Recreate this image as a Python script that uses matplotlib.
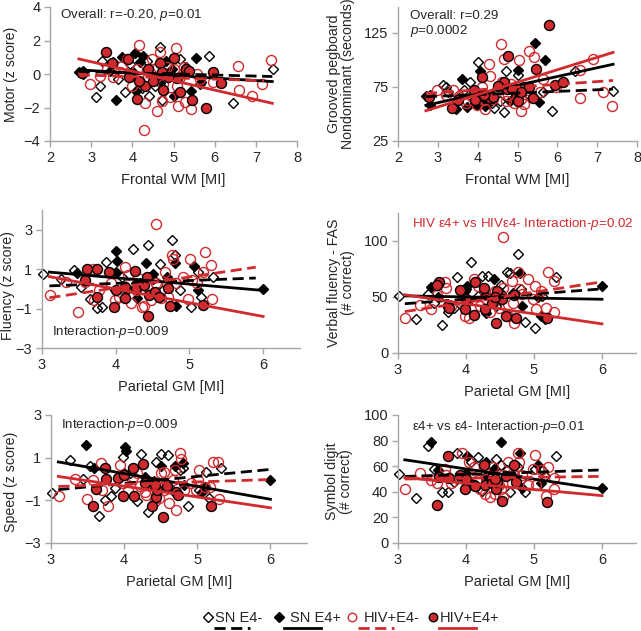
import matplotlib.pyplot as plt
import numpy as np

plt.rcParams['font.family'] = ['Liberation Sans', 'DejaVu Sans']
plt.rcParams['mathtext.fontset'] = 'custom'
plt.rcParams['mathtext.rm'] = 'Liberation Sans'
plt.rcParams['mathtext.it'] = 'Liberation Sans:italic'

RED = '#d02a2e'
GRAY = '#a6a6a6'
TXT = '#262626'

groups = ['SN E4-', 'SN E4+', 'HIV+E4-', 'HIV+E4+']

# ---- frontal white matter MI (panels 1-2) ----
sn_neg_frontal = [5.87, 7.41, 6.44, 3.12, 3.21, 3.26, 3.82, 4.67, 4.35, 4.23, 4.41, 4.71, 3.66, 5.00, 5.30,
                  4.02, 2.80, 5.64, 3.54, 4.55, 5.16, 3.94]
sn_pos_frontal = [2.70, 3.60, 4.06, 4.27, 4.81, 5.00, 5.54, 5.43, 5.68, 4.67, 4.10, 3.98, 4.96, 4.19, 3.46,
                  3.74, 5.02, 2.80]
hiv_neg_frontal = [4.15, 5.05, 4.67, 4.28, 4.59, 4.30, 5.10, 5.42, 5.28, 2.97, 6.56, 7.36, 6.58, 6.90, 7.14,
                   5.97, 4.91, 4.71, 4.83, 5.00, 3.86, 3.70, 3.21, 4.19, 4.39, 4.62, 5.25, 5.56, 3.54, 3.98,
                   4.11, 4.47, 5.64, 4.75, 5.08, 5.16, 3.38, 3.74]
hiv_pos_frontal = [3.36, 3.50, 3.90, 3.93, 4.11, 4.31, 4.39, 4.66, 4.75, 4.73, 5.00, 5.16, 5.30, 5.38, 5.46,
                   5.79, 5.95, 6.15, 2.77, 5.08, 4.51, 4.15, 4.87]

motor_sn_neg = [1.1, 0.3, -1.75, -1.35, -0.7, 0.75, -1.05, 1.6, 0.75, -0.85, -1.3, -1.55, -0.3, -0.2, 0.4,
                0.1, 0.0, -0.6, 0.7, -0.7, 0.9, 0.6]
motor_sn_pos = [0.1, -1.55, 1.25, 1.1, 0.8, 0.9, 0.95, -1.0, -0.5, -0.55, -1.0, 0.1, 0.3, 0.7, 0.15,
                1.0, -1.3, 0.15]
motor_hiv_neg = [1.75, 1.55, 1.3, -3.35, -2.2, -1.75, -1.9, -2.1, -1.7, -0.6, 0.5, 0.85, -0.95, -1.3, -0.6,
                 -0.5, -1.4, -1.6, 0.4, 0.3, 0.9, 0.1, -0.1, -0.5, -0.2, 0.4, 0.4, 0.0, -0.2, -0.7,
                 0.3, 0.9, -0.3, -0.6, -0.7, -0.2, 0.3, 0.5]
motor_hiv_pos = [1.3, 0.65, 0.9, -0.15, -1.5, -0.7, 0.3, 0.65, -0.95, 0.1, 0.95, -1.1, 0.3, 0.2, -1.55,
                 -2.05, 0.1, -0.55, 0.05, -0.25, -0.4, -0.4, -0.15]

peg_sn_neg = [52.5, 71, 89.5, 77, 75, 70, 80, 52, 60, 66, 55.5, 90, 72, 86, 68, 98, 68, 70, 65, 62, 75, 60]
peg_sn_pos = [67, 82, 90, 60, 62, 91, 61, 115.7, 100, 74, 65, 58, 68, 57, 54.6, 56, 64, 58.6]
peg_hiv_neg = [63, 99.7, 101, 96.6, 115, 85, 52.5, 102.8, 108, 72, 65, 57, 91, 101, 70, 75, 60, 62, 78, 66,
               66, 60, 68, 54.6, 64, 80, 72, 70, 67, 58, 75, 70, 82, 68, 64, 59, 72, 63]
peg_hiv_pos = [55.6, 63, 72, 63, 84, 65, 66, 80, 104, 73, 62.3, 75, 75, 65, 91.7, 132.7, 77, 80, 66, 70,
               76, 68, 73]

# ---- parietal grey matter MI (panels 3-6) ----
sn_neg_parietal = [3.01, 3.26, 3.44, 3.87, 4.23, 4.44, 4.77, 4.81, 4.60, 3.53, 3.65, 3.74, 3.82, 4.08, 4.17,
                   4.51, 4.87, 5.02, 5.12, 5.32, 5.16, 4.64, 4.33, 3.99]
sn_pos_parietal = [3.48, 4.01, 4.02, 4.00, 4.41, 4.80, 4.82, 4.29, 4.69, 5.06, 5.11, 6.00, 3.59, 4.28, 4.51]
hiv_neg_parietal = [4.54, 4.76, 4.78, 5.01, 5.21, 5.29, 5.18, 5.03, 5.30, 4.98, 3.49, 3.11, 3.33, 3.69, 4.12,
                    4.30, 4.35, 4.39, 4.67, 4.62, 4.71, 4.21, 3.94, 4.42, 4.82, 3.78, 4.05, 4.51, 4.91, 3.58,
                    4.17, 4.69, 3.99, 4.55, 4.28, 3.70, 5.10, 4.48]
hiv_pos_parietal = [3.61, 3.74, 3.75, 3.91, 3.98, 4.00, 4.12, 4.13, 4.26, 4.28, 4.38, 4.44, 4.45, 4.53, 4.59,
                    4.71, 4.74, 5.19, 3.58, 4.42]

fluency_sn_neg = [0.75, 0.48, 0.95, 1.35, 2.04, 2.24, 2.5, 1.74, 1.25, 0.1, -0.53, -0.98, -0.93, 0.6, -0.03,
                  0.48, -0.06, -0.93, 0.87, 0.6, -0.4, -0.06, 0.28, -0.06]
fluency_sn_pos = [0.82, 1.92, 1.4, 0.87, 1.32, 1.29, -0.87, -0.48, 0.61, 1.15, -0.06, -0.03, 0.44, 0.28, 0.75]
fluency_hiv_neg = [3.27, 1.7, 1.49, 1.49, 1.87, 1.2, 0.87, 0.45, -0.53, -0.53, -1.15, -0.31, 0.36, 1.03, 1.12,
                   0.53, -0.9, -0.87, 0.87, -0.48, -0.4, -0.73, 0.28, 0.11, 0.28, -0.06, -0.4, -0.23, 0.61, 0.36,
                   0.7, 0.28, -0.56, 0.28, -0.06, -0.56, 0.28, -0.56]
fluency_hiv_pos = [1.03, -0.4, 1.03, 0.87, -0.93, -0.06, 0.11, -0.48, 0.9, 0.03, 0.19, -1.4, -0.31, -0.14,
                   -0.4, 0.03, -0.87, -0.82, 0.44, 0.61]

verbal_sn_neg = [51, 30, 53, 68, 69, 42, 88.7, 57, 72, 45, 25, 37, 40, 81.5, 51, 61, 28, 22.4, 51, 68, 30,
                 71.6, 69, 55]
verbal_sn_pos = [59, 60, 45, 57, 66, 71, 42, 36, 54, 50, 33, 59.7, 50, 52, 54]
verbal_hiv_neg = [104, 72, 57, 60, 72, 64, 40, 39, 37, 48, 39, 31, 43, 63, 66, 48, 37, 45, 64, 33,
                  27, 42, 46, 55, 53, 42, 31, 50, 66, 52, 60, 45, 33, 58, 52, 58, 55, 40]
verbal_hiv_pos = [63, 42, 40, 56, 39, 48, 34, 63, 58, 39, 45, 27, 55, 48, 33, 52, 31, 31, 61, 50]

speed_sn_neg = [-0.66, 0.87, 0.0, -0.43, 1.18, 0.82, 0.43, 0.5, 1.13, 0.62, -1.75, -1.0, -0.82, 0.27, -1.05,
                1.18, -1.25, -0.5, 0.35, 0.5, -0.9, -0.47, -1.56, 1.05]
speed_sn_pos = [1.6, 1.52, 1.33, 0.3, -0.1, 0.74, -0.3, -0.12, 0.6, -0.63, -0.38, -0.07, 0.5, 0.1, 0.63]
speed_hiv_neg = [0.35, 1.24, 0.93, -0.04, 0.82, 0.82, -0.38, 0.43, -0.94, -0.5, -0.92, -0.78, 0.0, 0.77, 0.09,
                 -0.74, -0.2, -0.12, -0.04, -1.12, -1.44, -0.35, 0.66, -1.05, -0.5, -1.25, -0.5, 0.27, -0.2,
                 -0.04, 0.3, 0.43, -0.2, -0.5, -0.6, -0.5, -0.38, -0.9]
speed_hiv_pos = [-0.47, 0.5, 0.0, 0.04, -0.82, 0.2, 0.5, -0.82, 0.71, -0.2, -1.28, -0.85, -0.5, -1.78, -0.35,
                 -0.6, -0.74, -1.28, -1.28, -0.3]

symbol_sn_neg = [53.8, 35.5, 75.7, 70, 40.7, 66, 59.5, 49.6, 57, 57.7, 40, 40, 47.8, 63.4, 66.8, 60.8, 40,
                 58, 57, 68, 52, 40, 47.8, 51.7]
symbol_sn_pos = [79, 67.9, 50, 55, 58, 70, 43.3, 63.4, 52, 60.8, 46.5, 43.3, 57, 51.7, 79]
symbol_hiv_neg = [53, 70, 63.4, 68.7, 59.5, 51, 37, 45, 42.5, 58, 49, 42.5, 54.8, 58, 59.5, 50, 36, 59.5,
                  46.5, 63.4, 53, 42.5, 70, 38, 53, 46.5, 63.4, 42.5, 45, 46.5, 49, 55, 49, 36, 38, 53, 57, 45]
symbol_hiv_pos = [51.7, 67.9, 50.4, 53, 41.8, 50, 45, 44.4, 60.8, 45.2, 46.5, 42.5, 48, 32.9, 52, 60.8,
                  47.8, 32.1, 29.5, 50]

# trend lines per group: (x start, y start, x end, y end)
motor_fits = [(2.7, 0.15, 7.4, -0.15), (2.7, 0.25, 7.4, -0.45), (2.7, -0.05, 7.2, -0.4), (2.7, 0.9, 7.4, -1.75)]
peg_fits = [(2.7, 66, 7.4, 73), (2.7, 58, 7.4, 96), (2.7, 69, 7.4, 81), (2.7, 53, 7.4, 107)]
fluency_fits = [(3.1, 0.15, 5.9, 0.55), (3.1, 0.85, 6.0, -0.08), (3.1, -0.45, 5.9, 1.1), (3.1, 0.62, 6.0, -1.4)]
verbal_fits = [(3.1, 44, 5.95, 57), (3.1, 51, 6.0, 48), (3.1, 37, 5.95, 63), (3.1, 52, 6.0, 26)]
speed_fits = [(3.1, -0.5, 6.0, 0.45), (3.1, 0.8, 6.0, -0.95), (3.1, -0.35, 5.95, -0.03), (3.1, 0.12, 6.0, -1.35)]
symbol_fits = [(3.1, 52, 5.95, 57), (3.1, 65, 6.0, 42), (3.1, 50, 5.95, 52), (3.1, 51, 6.0, 37)]

frontal_x = [sn_neg_frontal, sn_pos_frontal, hiv_neg_frontal, hiv_pos_frontal]
parietal_x = [sn_neg_parietal, sn_pos_parietal, hiv_neg_parietal, hiv_pos_parietal]

marker_style = [
    dict(marker='D', ms=5.6, mfc='none', mec='black', mew=1.0),
    dict(marker='D', ms=5.6, mfc='black', mec='black', mew=1.0),
    dict(marker='o', ms=7.2, mfc='none', mec=RED, mew=1.0),
    dict(marker='o', ms=7.2, mfc=RED, mec='black', mew=1.0),
]
line_style = [
    dict(color='black', ls=(0, (4, 2))),
    dict(color='black', ls='-'),
    dict(color=RED, ls=(0, (4, 2))),
    dict(color=RED, ls='-'),
]

W, H = 641, 631
panels = [
    dict(rect=(50, 7, 297, 141), xlim=(2, 8), ylim=(-4, 4), yticks=[-4, -2, 0, 2, 4], xticks=range(2, 9),
         xs=frontal_x, ys=[motor_sn_neg, motor_sn_pos, motor_hiv_neg, motor_hiv_pos], fits=motor_fits,
         xlabel='Frontal WM [MI]', ylabel='Motor (z score)', lab=(-0.13, 0.5),
         note='Overall: r=-0.20, $p$=0.01', note_xy=(2.24, 3.5), note_c=TXT),
    dict(rect=(398, 7, 637, 141), xlim=(2, 8), ylim=(25, 149), yticks=[25, 75, 125], xticks=range(2, 9),
         xs=frontal_x, ys=[peg_sn_neg, peg_sn_pos, peg_hiv_neg, peg_hiv_pos], fits=peg_fits,
         xlabel='Frontal WM [MI]', ylabel='Grooved pegboard\nNondominant (seconds)', lab=(-0.18, 0.5),
         note='Overall: r=0.29\n$p$=0.0002', note_xy=(2.3, 133), note_c=TXT),
    dict(rect=(42, 210, 300, 348), xlim=(3, 6.5), ylim=(-3, 4), yticks=[-3, -1, 1, 3], xticks=[3, 4, 5, 6],
         xs=parietal_x, ys=[fluency_sn_neg, fluency_sn_pos, fluency_hiv_neg, fluency_hiv_pos], fits=fluency_fits,
         xlabel='Parietal GM [MI]', ylabel='Fluency (z score)', lab=(-0.105, 0.45),
         note='Interaction-$p$=0.009', note_xy=(3.13, -2.2), note_c=TXT),
    dict(rect=(398, 213, 636, 353), xlim=(3, 6.5), ylim=(0, 125), yticks=[0, 50, 100], xticks=[3, 4, 5, 6],
         xs=parietal_x, ys=[verbal_sn_neg, verbal_sn_pos, verbal_hiv_neg, verbal_hiv_pos], fits=verbal_fits,
         xlabel='Parietal GM [MI]', ylabel='Verbal fluency - FAS\n(# correct)', lab=(-0.18, 0.5),
         note='HIV ε4+ vs HIVε4- Interaction-$p$=0.02', note_xy=(3.21, 115), note_c=RED),
    dict(rect=(51, 415, 307, 543), xlim=(3, 6.5), ylim=(-3, 3), yticks=[-3, -1, 1, 3], xticks=[3, 4, 5, 6],
         xs=parietal_x, ys=[speed_sn_neg, speed_sn_pos, speed_hiv_neg, speed_hiv_pos], fits=speed_fits,
         xlabel='Parietal GM [MI]', ylabel='Speed (z score)', lab=(-0.13, 0.48),
         note='Interaction-$p$=0.009', note_xy=(3.13, 2.53), note_c=TXT),
    dict(rect=(398, 415, 636, 543), xlim=(3, 6.5), ylim=(0, 100), yticks=[0, 20, 40, 60, 80, 100],
         xticks=[3, 4, 5, 6],
         xs=parietal_x, ys=[symbol_sn_neg, symbol_sn_pos, symbol_hiv_neg, symbol_hiv_pos], fits=symbol_fits,
         xlabel='Parietal GM [MI]', ylabel='Symbol digit\n(# correct)', lab=(-0.19, 0.48),
         note='ε4+ vs ε4- Interaction-$p$=0.01', note_xy=(3.2, 91), note_c=TXT),
]

fig = plt.figure(figsize=(W / 100, H / 100), dpi=100)

for p in panels:
    x0, y0, x1, y1 = p['rect']
    ax = fig.add_axes([x0 / W, 1 - y1 / H, (x1 - x0) / W, (y1 - y0) / H])
    for g in range(4):
        ax.plot(p['xs'][g], p['ys'][g], ls='none', clip_on=False, zorder=2 + g * 0.1, **marker_style[g])
    for g in range(4):
        fx0, fy0, fx1, fy1 = p['fits'][g]
        ax.plot([fx0, fx1], [fy0, fy1], lw=2.0, zorder=4, **line_style[g])
    ax.set_xlim(*p['xlim'])
    ax.set_ylim(*p['ylim'])
    ax.set_xticks(list(p['xticks']))
    ax.set_yticks(p['yticks'])
    for s in ['top', 'right']:
        ax.spines[s].set_visible(False)
    for s in ['left', 'bottom']:
        ax.spines[s].set_color(GRAY)
        ax.spines[s].set_linewidth(1.0)
    ax.tick_params(colors=GRAY, labelcolor=TXT, labelsize=10.5, length=4, width=1.0, pad=3)
    ax.set_xlabel(p['xlabel'], fontsize=10.5, color=TXT, labelpad=6)
    ax.set_ylabel(p['ylabel'], fontsize=10.2, color=TXT, linespacing=1.0)
    ax.yaxis.set_label_coords(*p['lab'])
    ax.text(p['note_xy'][0], p['note_xy'][1], p['note'], fontsize=9.6, color=p['note_c'],
            ha='left', va='center', linespacing=1.1)

# legend strip along the bottom
leg = fig.add_axes([0, 0, 1, 31 / H])
leg.set_xlim(0, W)
leg.set_ylim(0, 31)
leg.axis('off')
leg_items = [(208, 214, 250, 215), (279, 284, 321, 290), (352, 358, 394, 364), (433, 439, 476, 440)]
for g, (mx, lx0, lx1, tx) in enumerate(leg_items):
    st = dict(marker_style[g])
    st['ms'] = st['ms'] * 0.85
    leg.plot([mx], [14], ls='none', **st)
    leg.plot([lx0, lx1], [3, 3], lw=2.0, **line_style[g])
    leg.text(tx, 13, groups[g], fontsize=10.5, color=TXT, ha='left', va='center')

fig.savefig('out.png', dpi=100)
